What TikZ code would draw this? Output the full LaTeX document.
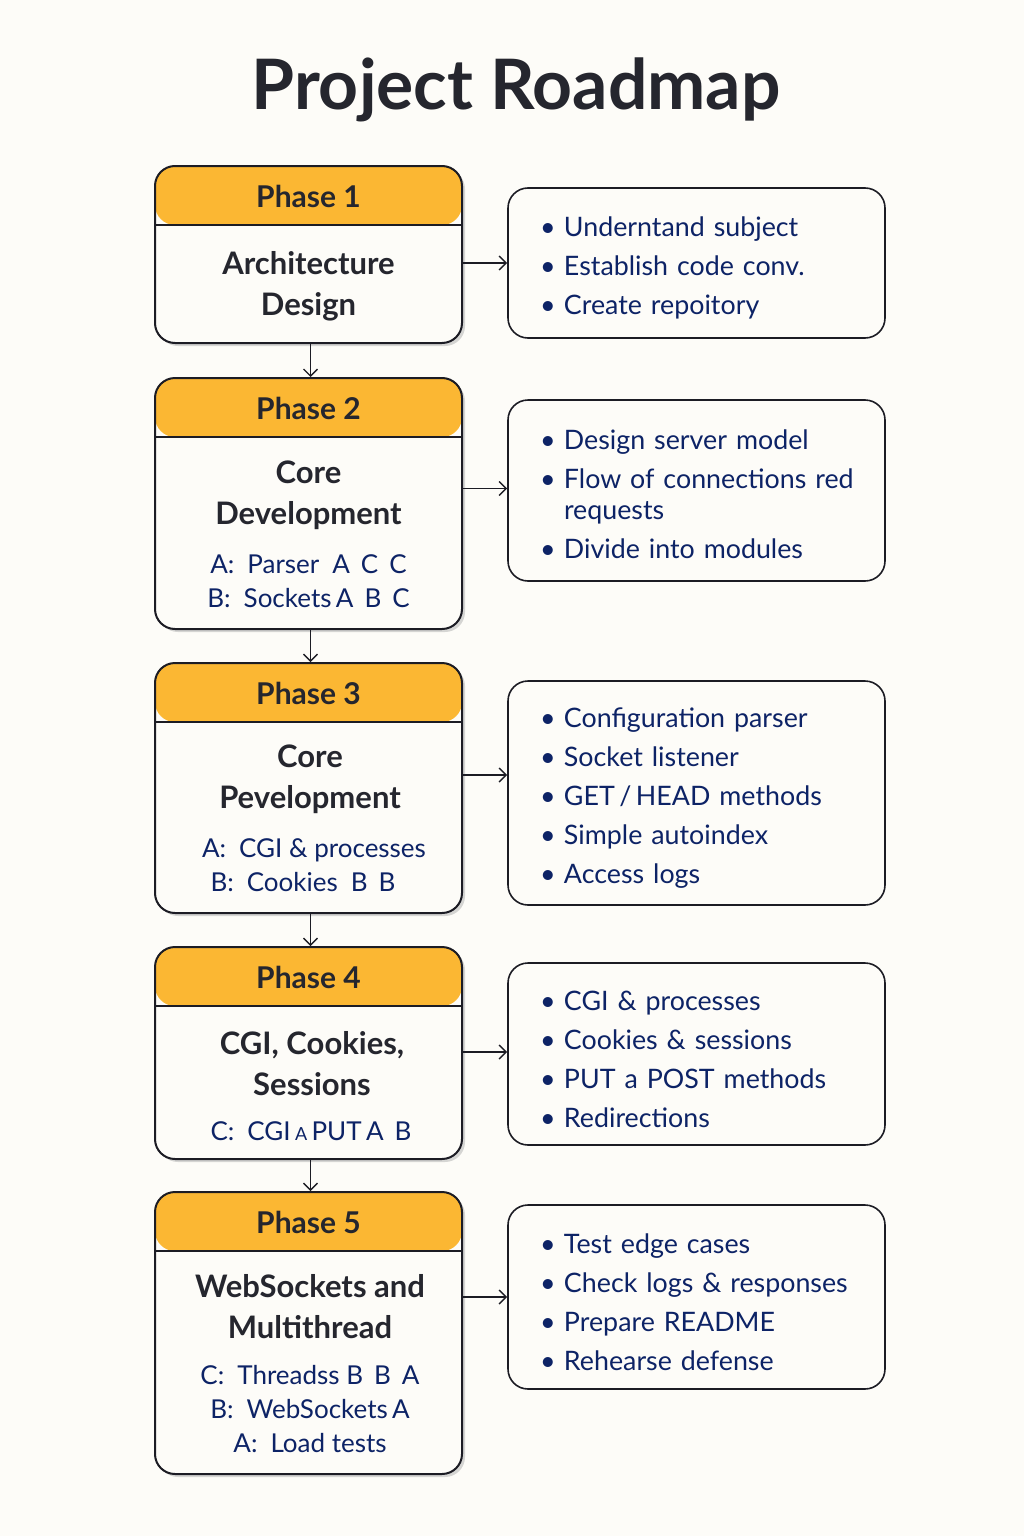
\documentclass[tikz,border=0pt]{standalone}
\usepackage{fontspec}
\setmainfont{Lato}
\usepackage{tikz}
\usetikzlibrary{arrows.meta,positioning,calc,shadows}

\definecolor{paper}{HTML}{FDFCF8}
\definecolor{hdr}{HTML}{FBB733}
\definecolor{edge}{HTML}{1C1C24}
\definecolor{navy}{HTML}{0D2366}
\definecolor{ink}{HTML}{25262E}

\newcommand{\itm}[1]{\mbox{\makebox[12pt][l]{\textbullet}#1}}

\begin{document}
\begin{tikzpicture}[
  x=0.5pt, y=-0.5pt,
  phase/.style={draw=edge, line width=1pt, rounded corners=10pt, fill=paper,
                minimum width=153.5pt, inner sep=0pt,
                drop shadow={shadow xshift=1.5pt, shadow yshift=-1.5pt,
                             fill=black!35, opacity=0.45},
                path picture={
                  \fill[hdr] (path picture bounding box.north west)
                     rectangle ([yshift=-29.5pt]path picture bounding box.north east);
                  \draw[edge, line width=1pt]
                     ([yshift=-29.5pt]path picture bounding box.north west)
                     -- ([yshift=-29.5pt]path picture bounding box.north east);}},
  lstbox/.style={draw=edge, line width=0.8pt, rounded corners=10pt, fill=paper,
                 minimum width=188.5pt, inner sep=0pt},
  lsttxt/.style={text width=158.5pt, inner sep=0pt, align=left, text=navy,
                 font=\fontsize{13.4}{19.5}\selectfont},
  hdtxt/.style={text=ink, font=\fontsize{15}{18}\selectfont\bfseries},
  bodytxt/.style={text=ink, align=center, font=\fontsize{15.5}{20.5}\selectfont\bfseries},
  subtxt/.style={text=navy, align=center, font=\fontsize{13}{17}\selectfont},
  vec/.style={-{Straight Barb[length=3.5pt,width=7pt]}, line width=0.7pt, draw=edge}]

% background and title
\fill[paper] (0,0) rectangle (1024,1536);
\useasboundingbox (0,0) rectangle (1024,1536);
\node[text=ink, font=\fontsize{34.8}{40}\selectfont\bfseries] (title) at (516,90) {Project Roadmap};

% ================= the phase boxes =======================================
\node[phase, minimum height=88.5pt]  (ph1) at (308.5,254.5) {};
\node[phase, minimum height=125.5pt] (ph2) at (308.5,503.5) {};
\node[phase, minimum height=125pt]   (ph3) at (308.5,788) {};
\node[phase, minimum height=106pt]   (ph4) at (308.5,1053) {};
\node[phase, minimum height=141pt]   (ph5) at (308.5,1333) {};

\foreach \i in {1,...,5}
  \node[hdtxt] (ph\i h) at ([yshift=-15.5pt]ph\i.north) {Phase \i};

\node[bodytxt] (ph1b) at (308.5,286) {Architecture\\Design};

\node[bodytxt] (ph2b) at (308.5,495) {Core\\Development};
\node[subtxt]  (ph2s) at (308.5,581) {A:\enspace Parser\enspace A\, C\, C\\B:\enspace Sockets\,A\, B\, C};

\node[bodytxt] (ph3b) at (310,779) {Core\\Pevelopment};
\node[subtxt]  (ph3s) at (314,865) {A:\enspace CGI \& processes\\B:\enspace Cookies\enspace B\, B\hspace*{11pt}};

\node[bodytxt] (ph4b) at (312,1064) {CGI, Cookies,\\Sessions};
\node[subtxt]  (ph4s) at (311,1131) {C:\enspace CGI\,{\fontsize{9}{9}\selectfont A}\,PUT\,A\, B};

\node[bodytxt] (ph5b) at (310,1307) {WebSockets and\\Multithread};
\node[subtxt]  (ph5s) at (310,1409) {C:\enspace Threadss B\, B\, A\\B:\enspace WebSockets\,A\\A:\enspace Load tests};

% ================= the task lists ========================================
\node[lstbox, minimum height=75pt]   (ls1) at (696.5,263)    {};
\node[lstbox, minimum height=90.5pt] (ls2) at (696.5,490.5)  {};
\node[lstbox, minimum height=112pt]  (ls3) at (696.5,793)    {};
\node[lstbox, minimum height=91pt]   (ls4) at (696.5,1054)   {};
\node[lstbox, minimum height=92pt]   (ls5) at (696.5,1297)   {};

\node[lsttxt] (ls1t) at ([xshift=1pt,yshift=-2.5pt]ls1.center)
  {\itm{Underntand subject}\\\itm{Establish code conv.}\\\itm{Create repoitory}};
\node[lsttxt] (ls2t) at ([xshift=1pt,yshift=-2pt]ls2.center)
  {\itm{Design server model}\\\itm{Flow of connections red}\\[-4pt]
   \hspace*{12pt}requests\\\itm{Divide into modules}};
\node[lsttxt] (ls3t) at ([xshift=1pt,yshift=-2.5pt]ls3.center)
  {\itm{Configuration parser}\\\itm{Socket listener}\\\itm{GET\,/\,HEAD methods}\\
   \itm{Simple autoindex}\\\itm{Access logs}};
\node[lsttxt] (ls4t) at ([xshift=1pt,yshift=-2.5pt]ls4.center)
  {\itm{CGI \& processes}\\\itm{Cookies \& sessions}\\\itm{PUT a POST methods}\\
   \itm{Redirections}};
\node[lsttxt] (ls5t) at ([xshift=1pt,yshift=-2.5pt]ls5.center)
  {\itm{Test edge cases}\\\itm{Check logs \& responses}\\\itm{Prepare README}\\
   \itm{Rehearse defense}};

% ================= connectors ============================================
\foreach \i/\j in {1/2,2/3,3/4,4/5}
  \draw[vec] ([xshift=1pt]ph\i.south) -- ([xshift=1pt]ph\j.north);
\foreach \i/\dy in {1/0,2/1,3/9,4/1,5/0}
  \draw[vec] ([yshift=\dy pt]ph\i.east |- ls\i.west) -- ([yshift=\dy pt]ls\i.west);

\end{tikzpicture}
\end{document}
